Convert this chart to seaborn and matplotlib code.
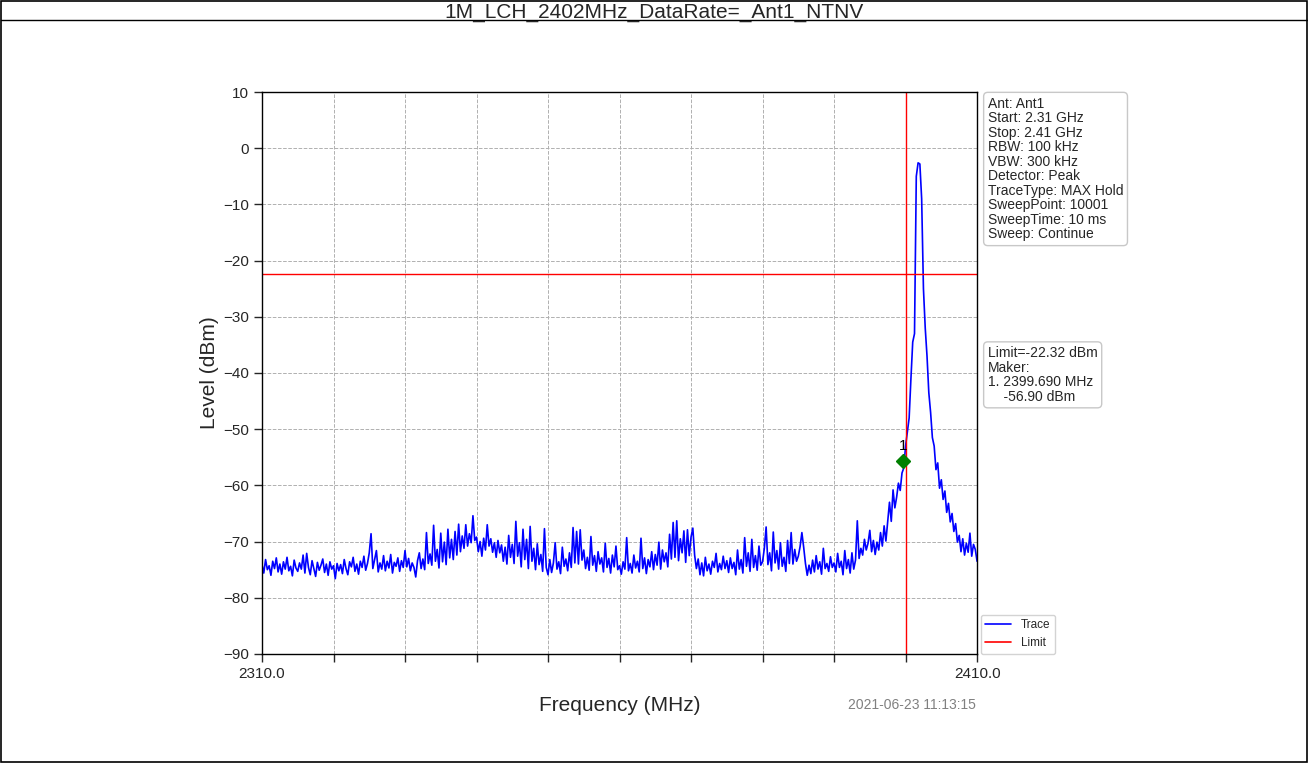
import numpy as np
import pandas as pd
import matplotlib
matplotlib.use("Agg")
import matplotlib.pyplot as plt
import seaborn as sns
from matplotlib.lines import Line2D
from matplotlib.ticker import MultipleLocator

# Datos (traza cada 0.25 MHz desde 2310 MHz)
freq_start = 2310.0
freq_step = 0.25
level_rows = [
    [-74.1, -75.6, -73.2, -75.0, -74.3, -76.0, -73.5, -74.8, -72.9, -75.4, -74.0, -75.8, -73.6, -74.9, -72.8, -75.2, -74.4, -76.1, -73.3, -74.7],
    [-75.3, -73.8, -74.9, -72.4, -75.6, -72.1, -74.6, -75.9, -73.4, -74.8, -76.2, -73.7, -75.1, -74.2, -73.1, -75.5, -74.0, -76.0, -73.6, -74.9],
    [-74.3, -76.6, -73.9, -75.2, -74.1, -75.7, -73.2, -74.8, -75.9, -73.6, -74.5, -72.8, -75.3, -74.0, -75.8, -73.5, -74.6, -72.6, -75.1, -73.9],
    [-72.0, -68.6, -74.8, -73.2, -71.6, -75.4, -73.8, -74.9, -72.5, -75.2, -73.5, -74.7, -72.3, -75.6, -73.7, -74.4, -72.9, -75.3, -73.4, -74.6],
    [-71.6, -74.5, -73.0, -75.2, -73.8, -74.6, -76.3, -73.4, -72.0, -74.8, -73.1, -75.0, -68.4, -73.9, -72.2, -74.2, -67.1, -73.5, -71.4, -74.7],
    [-68.5, -73.6, -70.1, -74.1, -67.8, -72.9, -69.6, -73.2, -68.2, -72.4, -66.9, -71.8, -69.0, -71.2, -67.0, -70.8, -68.6, -70.2, -65.4, -69.8],
    [-69.2, -71.8, -70.0, -72.6, -69.4, -71.5, -67.0, -70.8, -69.5, -71.9, -70.2, -72.8, -69.8, -72.0, -70.6, -73.5, -71.0, -74.0, -68.9, -72.8],
    [-70.5, -73.9, -66.4, -72.6, -70.2, -74.5, -67.8, -73.2, -69.6, -74.8, -67.3, -73.5, -71.2, -75.0, -70.4, -74.1, -72.3, -75.3, -67.7, -74.6],
    [-75.9, -73.2, -75.5, -73.8, -70.2, -74.9, -73.6, -75.7, -71.0, -74.4, -73.1, -75.2, -72.0, -74.6, -67.5, -73.8, -68.2, -74.0, -67.9, -73.3],
    [-71.5, -74.8, -72.8, -75.1, -69.1, -74.2, -72.5, -75.3, -71.8, -74.0, -72.9, -75.4, -70.3, -74.6, -73.0, -75.6, -72.4, -74.5, -70.8, -75.0],
    [-74.3, -75.8, -73.6, -74.9, -69.3, -75.2, -73.9, -75.6, -72.4, -74.7, -73.5, -75.4, -69.4, -74.8, -72.9, -75.7, -73.2, -74.5, -71.8, -75.0],
    [-72.3, -74.2, -70.1, -74.9, -71.5, -73.6, -72.0, -74.5, -68.7, -73.1, -66.6, -72.8, -66.3, -73.4, -69.5, -72.0, -68.1, -73.7, -67.9, -72.5],
    [-69.2, -67.6, -72.4, -74.8, -73.1, -75.9, -73.8, -76.1, -72.8, -75.2, -74.0, -75.8, -73.5, -74.6, -72.1, -75.4, -73.9, -75.0, -72.6, -74.8],
    [-73.4, -75.5, -72.9, -74.8, -73.7, -75.9, -71.5, -74.9, -73.2, -75.6, -69.3, -74.4, -72.0, -75.3, -69.6, -74.6, -72.5, -75.1, -70.8, -74.2],
    [-73.6, -71.2, -67.4, -74.1, -72.0, -75.2, -68.3, -73.8, -71.6, -74.9, -70.2, -74.4, -72.8, -75.3, -69.8, -73.9, -68.4, -74.0, -71.4, -73.5],
    [-72.6, -70.9, -68.4, -71.0, -73.9, -76.0, -74.2, -75.7, -73.3, -75.4, -72.5, -74.9, -73.6, -75.8, -71.2, -74.8, -73.9, -75.3, -72.7, -74.6],
    [-73.8, -75.4, -72.1, -74.6, -73.5, -75.9, -71.6, -74.8, -73.2, -75.6, -72.0, -74.9, -73.3, -66.3, -73.0, -71.2, -72.4, -69.6, -71.5, -70.3],
    [-68.0, -71.8, -69.8, -72.3, -70.1, -71.5, -68.4, -70.8, -67.2, -69.9, -66.5, -63.0, -66.4, -60.8, -64.0, -62.1, -59.6, -60.9, -57.8, -56.9],
    [-53.0, -50.5, -48.0, -41.0, -34.5, -33.0, -5.0, -2.6, -2.8, -9.0, -25.0, -32.0, -37.0, -43.5, -47.0, -51.5, -53.0, -57.2, -56.0, -60.5],
    [-59.0, -62.5, -61.0, -64.8, -63.2, -66.5, -65.0, -68.2, -66.8, -70.1, -68.9, -71.8, -69.5, -72.4, -70.3, -71.9, -68.5, -72.6, -70.5, -71.4],
    [-73.5],
]

limit_level = -22.32
marker_freq = 2399.69
marker_level = -55.6
vline_freq = 2400.0

info_lines = ["Ant: Ant1", "Start: 2.31 GHz", "Stop: 2.41 GHz", "RBW: 100 kHz",
              "VBW: 300 kHz", "Detector: Peak", "TraceType: MAX Hold",
              "SweepPoint: 10001", "SweepTime: 10 ms", "Sweep: Continue"]
marker_lines = ["Limit=-22.32 dBm", "Maker:", "1. 2399.690 MHz", "    -56.90 dBm"]
titulo = "1M_LCH_2402MHz_DataRate=_Ant1_NTNV"
fecha = "2021-06-23 11:13:15"

# Armar tabla
levels = [v for fila in level_rows for v in fila]
freqs = freq_start + freq_step * np.arange(len(levels))
df = pd.DataFrame({"freq": freqs, "level": levels})

sns.set_style("ticks")
plt.rcParams["font.family"] = ["Liberation Sans", "DejaVu Sans"]

fig = plt.figure(figsize=(13.08, 7.63), dpi=100)
ax = fig.add_axes([0.2003, 0.1429, 0.5467, 0.7365])

sns.lineplot(data=df, x="freq", y="level", ax=ax, color="blue", lw=1.2,
             estimator=None, sort=False)
ax.axhline(limit_level, color="red", lw=1.0)
ax.axvline(vline_freq, color="red", lw=1.0)
ax.plot([marker_freq], [marker_level], marker="D", color="green",
        markersize=7, ls="none", zorder=5)
ax.text(marker_freq, marker_level + 1.3, "1", ha="center", va="bottom",
        fontsize=11, color="black")

ax.set_xlim(2310, 2410)
ax.set_ylim(-90, 10)
ax.set_xticks([2310, 2410])
ax.set_xticklabels(["2310.0", "2410.0"], fontsize=11)
ax.xaxis.set_minor_locator(MultipleLocator(10))
ax.yaxis.set_major_locator(MultipleLocator(10))
ax.tick_params(axis="y", labelsize=11, length=6, width=1)
ax.tick_params(axis="x", which="major", length=6, width=1)
ax.tick_params(axis="x", which="minor", length=6, width=1)
ax.grid(True, which="both", ls="--", color="#b0b0b0", lw=0.7)
for s in ax.spines.values():
    s.set_color("black")
    s.set_linewidth(1.0)

ax.set_xlabel("Frequency (MHz)", fontsize=15, labelpad=11)
ax.set_ylabel("Level (dBm)", fontsize=15, labelpad=3)

# Cajas de informacion
caja = dict(boxstyle="round,pad=0.3", fc="white", ec="#c8c8c8", lw=1)
ax.text(1.015, 0.992, "\n".join(info_lines), transform=ax.transAxes,
        ha="left", va="top", fontsize=10, linespacing=1.05, bbox=caja)
ax.text(1.015, 0.548, "\n".join(marker_lines), transform=ax.transAxes,
        ha="left", va="top", fontsize=10, linespacing=1.05, bbox=caja)

handles = [Line2D([], [], color="blue", lw=1.2), Line2D([], [], color="red", lw=1.2)]
ax.legend(handles, ["Trace", "Limit"], loc="lower left", bbox_to_anchor=(1.005, 0.0),
          fontsize=8.5, frameon=True, edgecolor="#c8c8c8", handlelength=2.2,
          borderaxespad=0.0)

fig.text(0.697, 0.076, fecha, ha="center", va="center", fontsize=10, color="#808080")

# Marco y barra de titulo
fig.patches.append(plt.Rectangle((0.001, 0.001), 0.998, 0.998, transform=fig.transFigure,
                                 fill=False, ec="black", lw=1.2))
fig.add_artist(Line2D([0.001, 0.999], [0.9738, 0.9738], transform=fig.transFigure,
                      color="black", lw=1.0))
fig.text(0.5, 0.9764, titulo, ha="center", va="baseline", fontsize=15)

fig.savefig("out.png", dpi=100)
